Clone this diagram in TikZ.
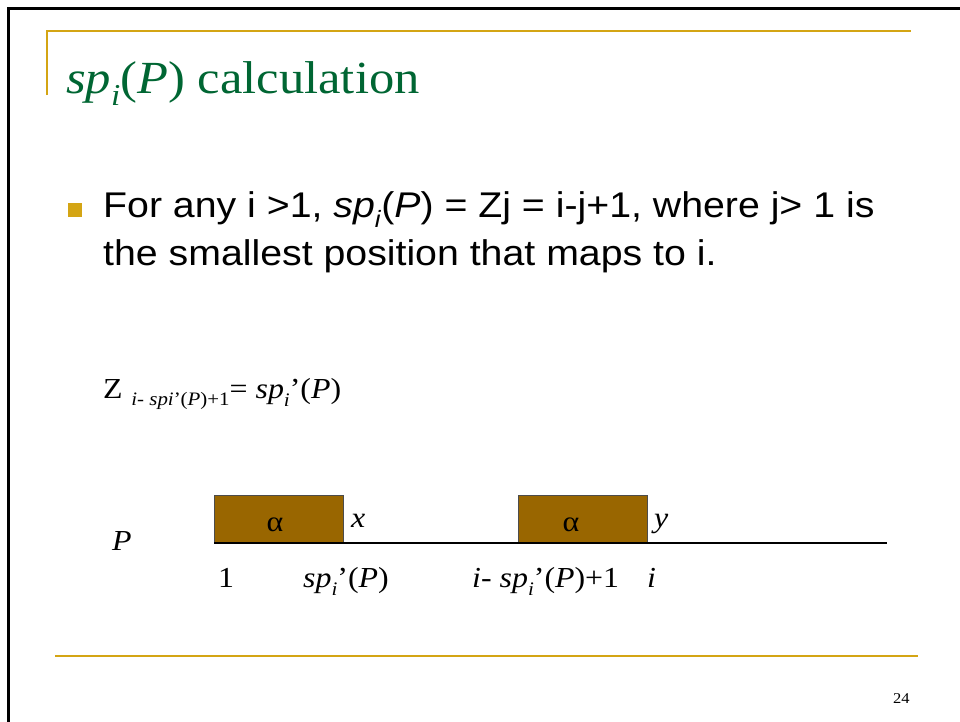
\documentclass[tikz,border=0pt]{standalone}
\usepackage{fontspec}
\setmainfont[FakeStretch=1.1]{Liberation Serif}
\newfontfamily\arialf[FakeStretch=1.1]{Liberation Sans}
\definecolor{gold}{RGB}{212,165,20}
\definecolor{titlegreen}{RGB}{0,102,51}
\definecolor{boxbrown}{RGB}{153,102,0}
\newcommand\lowsub[1]{\raisebox{-0.28em}{\scalebox{0.66}{#1}}}
\tikzset{
  txt/.style={anchor=base west, inner sep=0pt},
  serif29/.style={font=\fontsize{29}{29}\selectfont},
  alphabox/.style={draw=black!70, line width=0.8pt, fill=boxbrown, minimum width=129pt, minimum height=48pt, inner sep=0pt},
  goldline/.style={draw=gold, line width=2pt}
}
\begin{document}
\begin{tikzpicture}[x=1pt,y=-1pt]
\useasboundingbox (0,0) rectangle (960,721);
\fill[white] (0,0) rectangle (960,721);
% frame
\draw[line width=2.6pt] (8.5,730) -- (8.5,8.5) -- (970,8.5);
% gold rules
\draw[goldline] (46.5,95) -- (46.5,31) -- (911,31);
\draw[goldline] (55,655.5) -- (918,655.5);
% title
\node[txt, text=titlegreen, font=\fontsize{46}{46}\selectfont] (title) at (66,93)
  {\textit{sp}\lowsub{\textit{i}}(\textit{P}) calculation};
% bullet
\node[fill=gold, minimum size=14pt, inner sep=0pt] (bullet) at (74.5,209.5) {};
\node[txt, font=\arialf\fontsize{35.7}{35.7}\selectfont] (line1) at (103,217.5)
  {For any i >1, \textit{sp}\lowsub{\textit{i}}(\textit{P}) = Zj = i-j+1, where j> 1 is};
\node[txt, font=\arialf\fontsize{35.7}{35.7}\selectfont] (line2) at (103,265)
  {the smallest position that maps to i.};
% formula
\node[txt, serif29] (formula) at (103,398)
  {Z\hspace{0.3em}\raisebox{-0.25em}{\fontsize{19}{19}\selectfont\textit{i}- \textit{spi}'(\textit{P})+1}= \textit{sp}\lowsub{\textit{i}}'(\textit{P})};
% string P
\node[txt, serif29] (Plabel) at (112,550) {\textit{P}};
\node[alphabox] (box1) at (278.8,519.2) {};
\node[alphabox] (box2) at (582.8,519.2) {};
\node[anchor=base, inner sep=0pt, serif29] (alpha1) at (275,531) {α};
\node[anchor=base, inner sep=0pt, serif29] (alpha2) at (571,531) {α};
\node[txt, serif29] (xl) at (351,527) {\textit{x}};
\node[txt, serif29] (yl) at (654,527) {\textit{y}};
\coordinate (linestart) at (214.3,543);
\coordinate (lineend) at (887,543);
\draw[line width=2pt] (linestart) -- (lineend);
% position labels
\node[txt, serif29] (p1) at (218,587) {1};
\node[txt, serif29] (psp) at (303,587) {\textit{sp}\lowsub{\textit{i}}'(\textit{P})};
\node[txt, serif29] (pisp) at (472,587) {\textit{i}- \textit{sp}\lowsub{\textit{i}}'(\textit{P})+1};
\node[txt, serif29] (pi) at (647,587) {\textit{i}};
% page number
\node[txt, font=\fontsize{15}{15}\selectfont] (pagenum) at (893,703) {24};
\end{tikzpicture}
\end{document}
